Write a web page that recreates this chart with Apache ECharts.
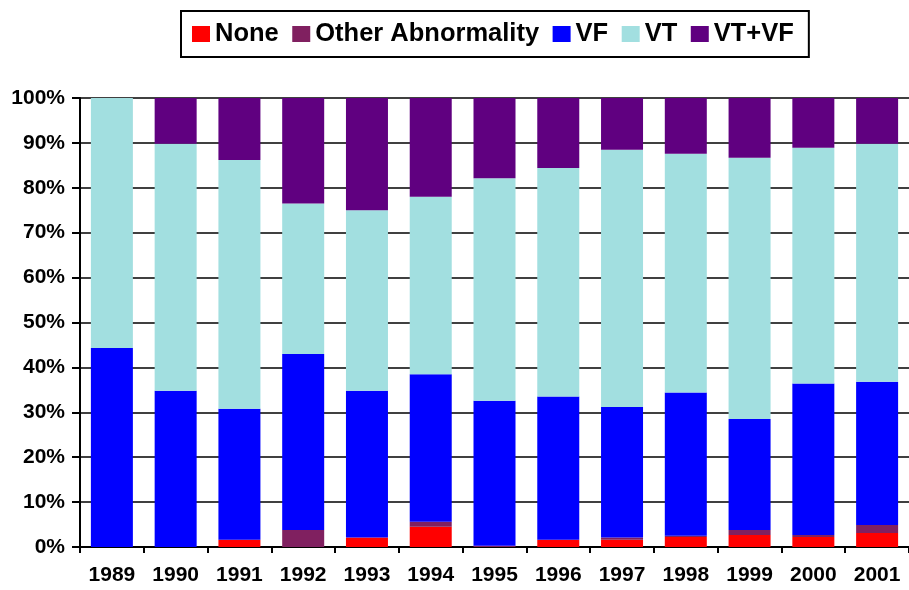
<!DOCTYPE html>
<html>
<head>
<meta charset="utf-8">
<script src="https://cdn.jsdelivr.net/npm/echarts@6/dist/echarts.min.js"></script>
<style>
  html, body { margin: 0; padding: 0; background: #fff; }
  #main { width: 909px; height: 590px; }
</style>
</head>
<body>
<div id="main"></div>
<script>
// years on the x axis
var years = ['1989', '1990', '1991', '1992', '1993', '1994', '1995', '1996', '1997', '1998', '1999', '2000', '2001'];
// share of each rhythm, percent of the year's total
var noneVals  = [0, 0, 1.6, 0, 2.1, 4.5, 0, 1.6, 1.6, 2.2, 2.7, 2.2, 3.1];
var otherVals = [0, 0, 0, 3.8, 0, 1.1, 0.3, 0, 0.5, 0.3, 1.1, 0.5, 1.8];
var vfVals    = [44.3, 34.8, 29.2, 39.2, 32.7, 32.9, 32.3, 31.9, 29.1, 31.9, 24.7, 33.7, 31.9];
var vtVals    = [55.7, 55.0, 55.4, 33.5, 40.2, 39.5, 49.5, 50.9, 57.3, 53.2, 58.2, 52.5, 53.0];
var vtvfVals  = [0, 10.2, 13.8, 23.5, 25.0, 22.0, 17.9, 15.6, 11.5, 12.4, 13.3, 11.1, 10.2];

var font = 'Liberation Sans, Arial, sans-serif';

var chart = echarts.init(document.getElementById('main'));

function barSeries(name, data, color) {
    return {
        name: name,
        type: 'bar',
        stack: 'total',
        barWidth: 42,
        data: data,
        itemStyle: { color: color },
        emphasis: { disabled: true }
    };
}

var option = {
    animation: false,
    backgroundColor: '#fff',
    legend: {
        left: 181,
        top: 11,
        icon: 'rect',
        itemWidth: 18,
        itemHeight: 16,
        itemGap: 13.5,
        padding: [10, 15, 10, 11],
        borderColor: '#000',
        borderWidth: 2,
        textStyle: {
            fontFamily: font,
            fontWeight: 'bold',
            fontSize: 25.5,
            color: '#000'
        },
        data: ['None', 'Other Abnormality', 'VF', 'VT', 'VT+VF']
    },
    grid: {
        left: 80,
        top: 98,
        width: 832,
        height: 449,
        containLabel: false
    },
    xAxis: {
        type: 'category',
        data: years,
        boundaryGap: true,
        axisLine: { lineStyle: { color: '#000', width: 2 } },
        axisTick: { show: true, length: 6, lineStyle: { color: '#000', width: 2 } },
        axisLabel: {
            margin: 18,
            fontFamily: font,
            fontWeight: 'bold',
            fontSize: 21,
            color: '#000'
        }
    },
    yAxis: {
        type: 'value',
        min: 0,
        max: 100,
        interval: 10,
        axisLine: { show: true, lineStyle: { color: '#000', width: 2 } },
        axisTick: { show: true, length: 8, lineStyle: { color: '#000', width: 2 } },
        splitLine: { show: true, lineStyle: { color: '#000', width: 1.5 } },
        axisLabel: {
            formatter: '{value}%',
            margin: 15,
            fontFamily: font,
            fontWeight: 'bold',
            fontSize: 21,
            color: '#000'
        }
    },
    series: [
        barSeries('None', noneVals, '#FF0000'),
        barSeries('Other Abnormality', otherVals, '#802060'),
        barSeries('VF', vfVals, '#0000FF'),
        barSeries('VT', vtVals, '#A2DFE0'),
        barSeries('VT+VF', vtvfVals, '#600080')
    ]
};

chart.setOption(option);
</script>
</body>
</html>
